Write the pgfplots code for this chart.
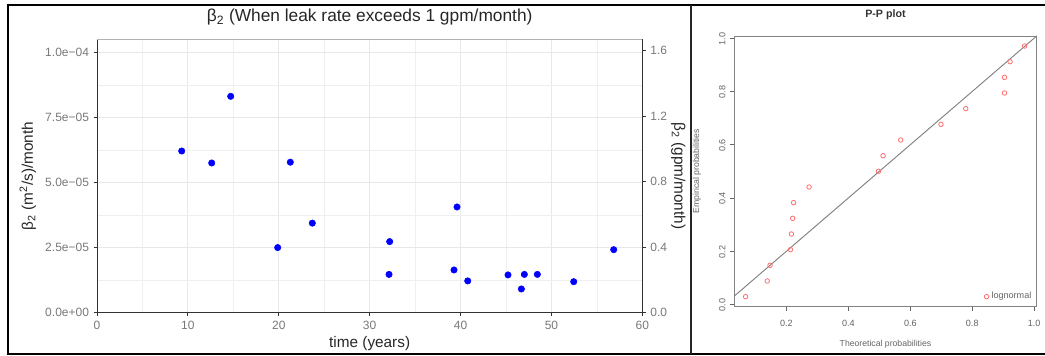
\documentclass[border=0pt]{standalone}
\usepackage{fontspec}
\setmainfont{Liberation Sans}
\usepackage{pgfplots}
\pgfplotsset{compat=1.18}

\definecolor{tickgray}{RGB}{120,120,120}
\definecolor{axisdark}{RGB}{51,51,51}
\definecolor{gridc}{RGB}{232,232,232}
\definecolor{ptblue}{RGB}{0,0,255}
\definecolor{ppred}{RGB}{255,110,110}
\definecolor{rgray}{RGB}{100,100,100}

\begin{document}
\begin{tikzpicture}
\path[use as bounding box] (0,0) rectangle (783.75pt,267pt);
% panel frame
\draw[black, line width=1.7pt] (5.0pt,263.25pt) -- (783.75pt,263.25pt);
\draw[black, line width=1.7pt] (5.0pt,1.3pt) -- (783.75pt,1.3pt);
\draw[black, line width=1.7pt] (5.9pt,1.3pt) -- (5.9pt,263.25pt);
\draw[black!85, line width=1.6pt] (518pt,1.3pt) -- (518pt,263.25pt);

% ---------------- left scatter ----------------
\begin{axis}[
  at={(72.75pt,32.5pt)}, anchor=south west,
  scale only axis, width=409pt, height=205pt,
  xmin=0, xmax=60, ymin=0, ymax=1.05e-4,
  xtick={0,10,20,30,40,50,60}, xticklabels={0,10,20,30,40,50,60},
  minor xtick={5,15,25,35,45,55},
  ytick={0,2.5e-5,5e-5,7.5e-5,1e-4},
  yticklabels={0.0e+00,2.5e−05,5.0e−05,7.5e−05,1.0e−04},
  minor ytick={1.25e-5,3.75e-5,6.25e-5,8.75e-5},
  scaled y ticks=false,
  grid=both,
  major grid style={gridc, line width=0.6pt},
  minor grid style={gridc!70!white, line width=0.4pt},
  tick align=outside, xtick pos=left, ytick pos=left,
  major tick length=2.5pt, minor tick length=0pt,
  tick style={axisdark, line width=0.6pt},
  axis line style={axisdark, line width=0.7pt},
  ticklabel style={font=\fontsize{9}{10}\selectfont, text=tickgray},
  title={β\textsubscript{2} (When leak rate exceeds 1 gpm/month)},
  every axis title/.style={font=\fontsize{13}{15}\selectfont, text=black!85, at={(0.5,1.0815)}, anchor=center},
  xlabel={time (years)},
  xlabel style={font=\fontsize{11.5}{13}\selectfont, text=black!85, at={(0.5,-0.114)}, anchor=center},
  ylabel={β\textsubscript{2} (m\textsuperscript{2}/s)/month},
  ylabel style={font=\fontsize{11.5}{13}\selectfont, text=black!85, at={(-0.1267,0.5)}, anchor=center},
]
\addplot[only marks, mark=*, mark size=2.4pt, ptblue, mark options={draw=ptblue, fill=ptblue}] coordinates {
  (9.32,6.21e-5) (12.62,5.75e-5) (14.71,8.31e-5) (19.88,2.50e-5)
  (21.27,5.78e-5) (23.69,3.44e-5) (32.20,2.73e-5) (32.13,1.47e-5)
  (39.28,1.64e-5) (39.61,4.06e-5) (40.79,1.22e-5) (45.22,1.45e-5)
  (46.69,0.91e-5) (47.02,1.47e-5) (48.45,1.47e-5) (52.45,1.19e-5)
  (56.85,2.42e-5)
};
\draw[gray!60, line width=0.7pt] (rel axis cs:0,1) -- (rel axis cs:1,1);
\end{axis}

% right-hand y axis (gpm/month)
\begin{axis}[
  at={(72.75pt,32.5pt)}, anchor=south west,
  scale only axis, width=409pt, height=205pt,
  xmin=0, xmax=60, ymin=0, ymax=1.67,
  axis x line=none, axis y line*=right,
  ytick={0,0.4,0.8,1.2,1.6}, yticklabels={0.0,0.4,0.8,1.2,1.6},
  tick align=outside, major tick length=2.5pt,
  tick style={axisdark, line width=0.6pt},
  axis line style={axisdark, line width=0.7pt, -},
  ticklabel style={font=\fontsize{9}{10}\selectfont, text=tickgray},
  ylabel={β\textsubscript{2} (gpm/month)},
  every axis y label/.style={font=\fontsize{11.5}{13}\selectfont, text=black!85, at={(1.066,0.5)}, anchor=center, rotate=-90},
]
\addplot[draw=none] coordinates {(0,0)};
\end{axis}

% ---------------- right P-P plot ----------------
\begin{axis}[
  at={(550.7pt,37pt)}, anchor=south west,
  scale only axis, width=226.8pt, height=203pt,
  xmin=0.0315, xmax=1.008, ymin=-0.0082, ymax=1.0082,
  xtick={0.2,0.4,0.6,0.8,1.0}, xticklabels={0.2,0.4,0.6,0.8,1.0},
  ytick={0,0.2,0.4,0.6,0.8,1.0}, yticklabels={0.0,0.2,0.4,0.6,0.8,1.0},
  tick align=outside, xtick pos=left, ytick pos=left,
  major tick length=3pt,
  tick style={rgray, line width=0.5pt},
  axis line style={rgray!80, line width=0.6pt},
  ticklabel style={font=\fontsize{6.8}{7.5}\selectfont, text=rgray},
  xticklabel style={yshift=-3.5pt},
  yticklabel style={rotate=90, anchor=south, xshift=-0.5pt},
  title={P-P plot},
  every axis title/.style={font=\bfseries\fontsize{8}{9}\selectfont, text=black!80, at={(0.5,1.0776)}, anchor=center},
  xlabel={Theoretical probabilities},
  xlabel style={font=\fontsize{6.5}{7}\selectfont, text=rgray, at={(0.5,-0.139)}, anchor=center},
  ylabel={Empirical probabilities},
  ylabel style={font=\fontsize{6.5}{7}\selectfont, text=rgray, at={(-0.1235,0.5)}, anchor=center},
  legend style={draw=none, fill=none, at={(0.826,0.037)}, anchor=west,
    font=\fontsize{6.8}{7.5}\selectfont, text=rgray, inner sep=0pt},
  legend cell align=left,
]
\addplot[gray, line width=0.7pt, forget plot] coordinates {(0,0) (1.05,1.05)};
\addplot[only marks, mark=o, mark size=1.7pt, ppred, line width=0.6pt] coordinates {
  (0.068,0.0294) (0.138,0.0882) (0.147,0.1471) (0.213,0.2059)
  (0.216,0.2647) (0.220,0.3235) (0.223,0.3824) (0.273,0.4412)
  (0.497,0.5000) (0.512,0.5588) (0.569,0.6176) (0.699,0.6765)
  (0.779,0.7353) (0.904,0.7941) (0.904,0.8529) (0.922,0.9118)
  (0.969,0.9706)
};
\addlegendentry{lognormal}
\end{axis}
\end{tikzpicture}
\end{document}
